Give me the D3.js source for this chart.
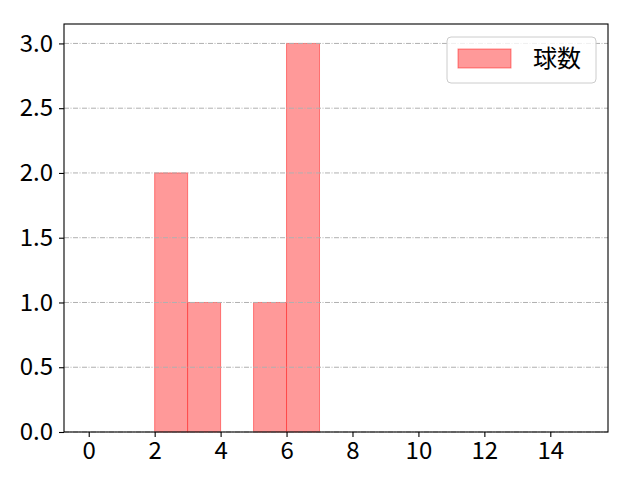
<!DOCTYPE html>
<html>
<head>
<meta charset="utf-8">
<script src="https://cdn.jsdelivr.net/npm/d3@7"></script>
<style>
  body { margin: 0; background: #fff; }
  svg text { font-family: "Noto Sans CJK JP", "Noto Sans", sans-serif; }
</style>
</head>
<body>
<div id="chart"></div>
<script>
// histogram bins (left edges, width 1) and counts
const binStarts = [0, 1, 2, 3, 4, 5, 6, 7, 8, 9, 10, 11, 12, 13, 14];
const counts    = [0, 0, 2, 1, 0, 1, 3, 0, 0, 0, 0, 0, 0, 0, 0];
const xTicks = [0, 2, 4, 6, 8, 10, 12, 14];
const yTicks = [0, 0.5, 1.0, 1.5, 2.0, 2.5, 3.0];
const seriesName = "球数";

let margin = { top: 24, right: 32, bottom: 48, left: 64 },
    width = 640 - margin.left - margin.right,
    height = 480 - margin.top - margin.bottom;

let svg = d3.select("#chart")
    .append("svg")
    .attr("width", 640)
    .attr("height", 480)
    .append("g")
    .attr("transform", "translate(" + margin.left + "," + margin.top + ")");

let x = d3.scaleLinear().domain([-0.75, 15.75]).range([0, width]);
let y = d3.scaleLinear().domain([0, 3.15]).range([height, 0]);

// bars
let data = binStarts.map((b, i) => ({ x0: b, x1: b + 1, n: counts[i] })).filter(d => d.n > 0);
svg.selectAll("rect.bar")
    .data(data)
    .enter()
    .append("rect")
    .attr("class", "bar")
    .attr("x", d => x(d.x0))
    .attr("y", d => y(d.n))
    .attr("width", d => x(d.x1) - x(d.x0))
    .attr("height", d => y(0) - y(d.n))
    .attr("fill", "#ff9999")
    .attr("stroke", "red")
    .attr("stroke-opacity", 0.45)
    .attr("stroke-width", 1);

// horizontal grid, dash-dot
svg.selectAll("line.grid")
    .data(yTicks)
    .enter()
    .append("line")
    .attr("class", "grid")
    .attr("x1", 0)
    .attr("x2", width)
    .attr("y1", d => y(d))
    .attr("y2", d => y(d))
    .attr("stroke", "#b0b0b0")
    .attr("stroke-width", 1)
    .attr("stroke-dasharray", "5,1.5,1,1.5");

// axes
let xAxis = svg.append("g")
    .attr("transform", "translate(0," + height + ")")
    .call(d3.axisBottom(x).tickValues(xTicks).tickFormat(d3.format("d")).tickSize(5).tickPadding(5));
let yAxis = svg.append("g")
    .call(d3.axisLeft(y).tickValues(yTicks).tickFormat(d3.format(".1f")).tickSize(5).tickPadding(6));

[xAxis, yAxis].forEach(a => {
    a.select(".domain").remove();
    a.selectAll("text").attr("font-size", 24).attr("fill", "#000")
        .style("font-family", "'Noto Sans CJK JP', sans-serif");
    a.selectAll("line").attr("stroke", "#000").attr("stroke-width", 1.1);
});

// frame
svg.append("rect")
    .attr("width", width)
    .attr("height", height)
    .attr("fill", "none")
    .attr("stroke", "#000")
    .attr("stroke-width", 1.1);

// legend
let lg = svg.append("g").attr("transform", "translate(" + (447 - margin.left) + "," + (37 - margin.top) + ")");
lg.append("rect")
    .attr("width", 149)
    .attr("height", 46)
    .attr("rx", 4)
    .attr("fill", "#fff")
    .attr("fill-opacity", 0.8)
    .attr("stroke", "#cccccc");
lg.append("rect")
    .attr("x", 11)
    .attr("y", 12)
    .attr("width", 53)
    .attr("height", 19)
    .attr("fill", "#ff9999")
    .attr("stroke", "red")
    .attr("stroke-opacity", 0.45);
lg.append("text")
    .attr("x", 86)
    .attr("y", 22)
    .attr("dy", "0.35em")
    .attr("font-size", 24)
    .attr("fill", "#000")
    .text(seriesName);
</script>
</body>
</html>
